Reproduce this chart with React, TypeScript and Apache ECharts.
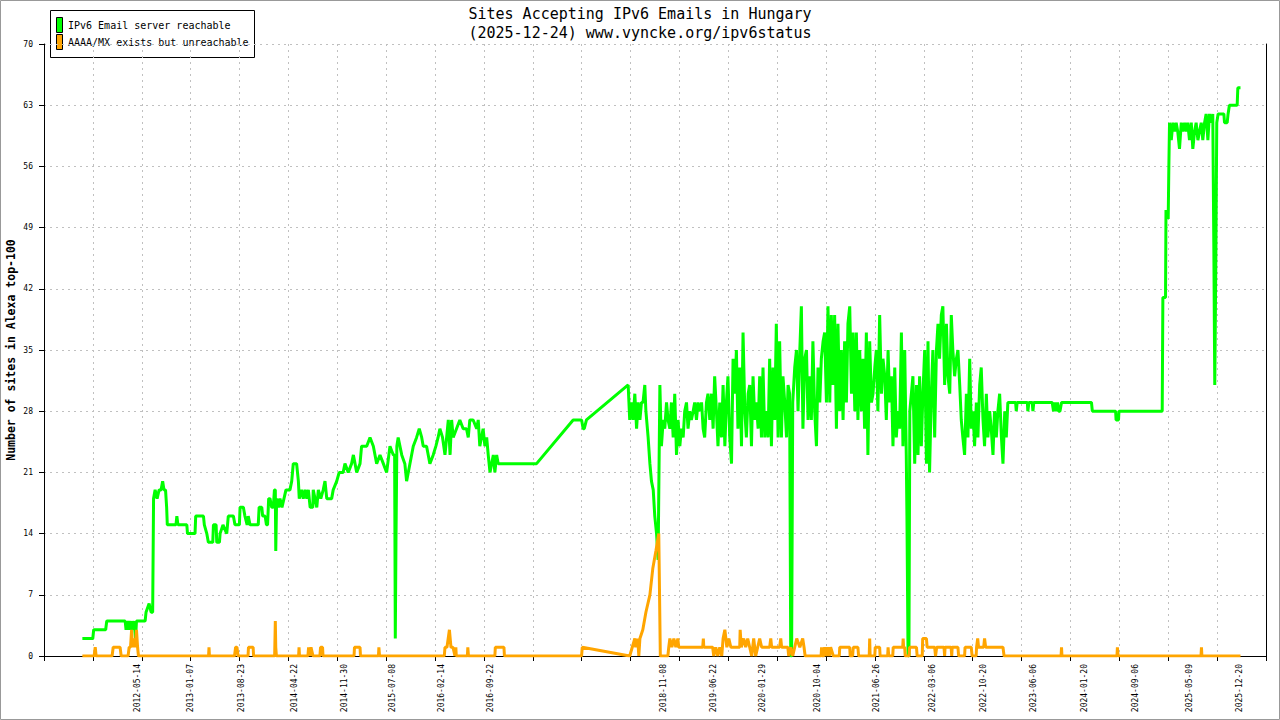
import { useEffect, useRef } from "react";
import * as echarts from "echarts";

const TITLE = "Sites Accepting IPv6 Emails in Hungary\n(2025-12-24) www.vyncke.org/ipv6status";
const Y_NAME = "Number of sites in Alexa top-100";
const SERIES_NAMES = ["IPv6 Email server reachable", "AAAA/MX exists but unreachable"];
const SERIES_COLORS = ["#00ff00", "#ffa500"];

const X_LABEL_DATES = [
  "2012-05-14", "2013-01-07", "2013-08-23", "2014-04-22", "2014-11-30", "2015-07-08",
  "2016-02-14", "2016-09-22", "2018-11-08", "2019-06-22", "2020-01-29", "2020-10-04",
  "2021-06-26", "2022-03-06", "2022-10-20", "2023-06-06", "2024-01-20", "2024-09-06",
  "2025-05-09", "2025-12-20",
];
const X_START = "2011-03-18";
const X_TICK_DAYS = 220.4;
const X_TICK_COUNT = 25;
const Y_MIN = 0;
const Y_MAX = 70;
const Y_STEP = 7;

const REACHABLE: [string, number][] = [
  ["2011-09-07", 2], ["2011-10-24", 2], ["2011-10-28", 3], ["2011-12-21", 3], ["2011-12-26", 4],
  ["2012-03-18", 4], ["2012-03-22", 3], ["2012-03-31", 4], ["2012-04-05", 3], ["2012-04-14", 4], ["2012-04-18", 3],
  ["2012-04-27", 4], ["2012-05-04", 2], ["2012-05-08", 4], ["2012-06-16", 4], ["2012-06-20", 5], ["2012-07-04", 6],
  ["2012-07-13", 5], ["2012-07-20", 5], ["2012-07-24", 18], ["2012-07-31", 19], ["2012-08-09", 18], ["2012-08-18", 19],
  ["2012-08-27", 19], ["2012-09-03", 20], ["2012-09-09", 19], ["2012-09-16", 19], ["2012-09-21", 17], ["2012-09-24", 15],
  ["2012-11-02", 15], ["2012-11-06", 16], ["2012-11-11", 15], ["2012-12-21", 15], ["2012-12-24", 14],
  ["2013-01-12", 14], ["2013-01-27", 14], ["2013-01-30", 16], ["2013-03-06", 16], ["2013-03-10", 15], ["2013-03-21", 14],
  ["2013-03-28", 13], ["2013-04-17", 13], ["2013-04-20", 15], ["2013-05-02", 15], ["2013-05-05", 13], ["2013-05-17", 13],
  ["2013-05-20", 14], ["2013-06-02", 15], ["2013-06-19", 14], ["2013-06-26", 16], ["2013-07-19", 16], ["2013-07-26", 15],
  ["2013-08-15", 15], ["2013-08-18", 17], ["2013-09-02", 17], ["2013-09-09", 16], ["2013-09-19", 15], ["2013-09-24", 16],
  ["2013-10-02", 15], ["2013-11-08", 15], ["2013-11-12", 17], ["2013-11-24", 17], ["2013-11-28", 16], ["2013-12-09", 16],
  ["2013-12-15", 15], ["2013-12-20", 15], ["2013-12-25", 18], ["2013-12-31", 18],
  ["2014-01-08", 17], ["2014-01-15", 17], ["2014-01-20", 19], ["2014-01-24", 19], ["2014-01-26", 12], ["2014-01-30", 18],
  ["2014-02-07", 17], ["2014-02-14", 18], ["2014-02-23", 17], ["2014-03-04", 18], ["2014-03-13", 19], ["2014-03-31", 19],
  ["2014-04-08", 20], ["2014-04-15", 22], ["2014-04-30", 22], ["2014-05-08", 20], ["2014-05-12", 18], ["2014-05-22", 19],
  ["2014-05-30", 18], ["2014-06-07", 19], ["2014-06-15", 18], ["2014-06-22", 19], ["2014-06-30", 17], ["2014-07-12", 17],
  ["2014-07-14", 19], ["2014-07-22", 18], ["2014-07-30", 17], ["2014-08-06", 19], ["2014-08-17", 18], ["2014-08-28", 19],
  ["2014-09-05", 20], ["2014-09-13", 18], ["2014-10-05", 18], ["2014-10-12", 19], ["2014-10-28", 20], ["2014-11-08", 21],
  ["2014-11-26", 21], ["2014-12-04", 22], ["2014-12-19", 21],
  ["2015-01-03", 22], ["2015-01-11", 23], ["2015-01-26", 21], ["2015-02-10", 22], ["2015-02-17", 24], ["2015-03-12", 24],
  ["2015-03-27", 25], ["2015-04-11", 24], ["2015-04-26", 22], ["2015-05-11", 23], ["2015-05-26", 22], ["2015-06-10", 21],
  ["2015-06-25", 24], ["2015-07-10", 23], ["2015-07-16", 23], ["2015-07-19", 2], ["2015-07-22", 13], ["2015-07-26", 24],
  ["2015-08-01", 25], ["2015-08-17", 23], ["2015-08-31", 22], ["2015-09-08", 20], ["2015-09-23", 22], ["2015-10-08", 24],
  ["2015-10-23", 25], ["2015-11-04", 26], ["2015-11-15", 25], ["2015-11-22", 24], ["2015-12-07", 24], ["2015-12-22", 22],
  ["2016-01-06", 23], ["2016-01-18", 24], ["2016-01-28", 25], ["2016-02-05", 26], ["2016-02-17", 25], ["2016-02-28", 23],
  ["2016-03-14", 27], ["2016-03-22", 23], ["2016-03-29", 27], ["2016-04-05", 25], ["2016-04-20", 26], ["2016-05-05", 27],
  ["2016-05-20", 26], ["2016-06-04", 26], ["2016-06-12", 25], ["2016-06-19", 27], ["2016-07-04", 27], ["2016-07-20", 26],
  ["2016-07-27", 27], ["2016-08-03", 24], ["2016-08-18", 26], ["2016-08-26", 24], ["2016-09-03", 25], ["2016-09-10", 23],
  ["2016-09-18", 21], ["2016-10-03", 23], ["2016-10-10", 21], ["2016-10-18", 23], ["2016-10-25", 22],
  ["2017-04-16", 22], ["2017-09-28", 27], ["2017-11-05", 27], ["2017-11-12", 26], ["2017-11-17", 26], ["2017-11-27", 27],
  ["2018-06-03", 31], ["2018-06-10", 27], ["2018-06-18", 29], ["2018-06-25", 27], ["2018-07-03", 30], ["2018-07-11", 26],
  ["2018-07-18", 29], ["2018-07-26", 27], ["2018-08-02", 29], ["2018-08-09", 29], ["2018-08-17", 31], ["2018-08-22", 28],
  ["2018-09-01", 25], ["2018-09-09", 22], ["2018-09-16", 20], ["2018-09-24", 19], ["2018-10-01", 16], ["2018-10-09", 14],
  ["2018-10-16", 11], ["2018-10-24", 31], ["2018-10-31", 24], ["2018-11-08", 27], ["2018-11-15", 26], ["2018-11-23", 29],
  ["2018-11-30", 27], ["2018-12-08", 26], ["2018-12-15", 29], ["2018-12-23", 25], ["2018-12-30", 30],
  ["2019-01-07", 23], ["2019-01-14", 27], ["2019-01-22", 24], ["2019-01-29", 26], ["2019-02-06", 25], ["2019-02-13", 28],
  ["2019-02-21", 29], ["2019-02-28", 26], ["2019-03-08", 28], ["2019-03-15", 27], ["2019-03-23", 28], ["2019-03-30", 29],
  ["2019-04-07", 27], ["2019-04-14", 29], ["2019-04-22", 28], ["2019-04-30", 29], ["2019-05-07", 26], ["2019-05-14", 25],
  ["2019-05-22", 29], ["2019-05-29", 30], ["2019-06-06", 27], ["2019-06-14", 30], ["2019-06-21", 26], ["2019-06-28", 32],
  ["2019-07-06", 28], ["2019-07-13", 24], ["2019-07-21", 29], ["2019-07-29", 25], ["2019-08-05", 31], ["2019-08-13", 24],
  ["2019-08-20", 29], ["2019-08-27", 32], ["2019-09-04", 25], ["2019-09-12", 22], ["2019-09-19", 34], ["2019-09-27", 30],
  ["2019-10-04", 35], ["2019-10-11", 26], ["2019-10-19", 33], ["2019-10-27", 24], ["2019-11-03", 37], ["2019-11-11", 28],
  ["2019-11-18", 25], ["2019-11-26", 30], ["2019-12-03", 31], ["2019-12-11", 24], ["2019-12-18", 32], ["2019-12-26", 27],
  ["2020-01-02", 29], ["2020-01-10", 26], ["2020-01-17", 32], ["2020-01-25", 25], ["2020-02-01", 33], ["2020-02-09", 25],
  ["2020-02-16", 28], ["2020-02-24", 25], ["2020-03-02", 34], ["2020-03-10", 24], ["2020-03-17", 33], ["2020-03-25", 27],
  ["2020-04-01", 38], ["2020-04-09", 25], ["2020-04-16", 36], ["2020-04-24", 25], ["2020-05-01", 32], ["2020-05-09", 29],
  ["2020-05-17", 25], ["2020-05-24", 31], ["2020-05-31", 30], ["2020-06-05", 0], ["2020-06-09", 0], ["2020-06-14", 29],
  ["2020-06-23", 33], ["2020-07-01", 35], ["2020-07-08", 28], ["2020-07-16", 35], ["2020-07-23", 40], ["2020-07-30", 26],
  ["2020-08-07", 34], ["2020-08-15", 35], ["2020-08-22", 27], ["2020-08-30", 32], ["2020-09-06", 27], ["2020-09-13", 36],
  ["2020-09-21", 28], ["2020-09-29", 24], ["2020-10-06", 33], ["2020-10-14", 29], ["2020-10-21", 34], ["2020-10-29", 36],
  ["2020-11-05", 37], ["2020-11-13", 29], ["2020-11-20", 40], ["2020-11-28", 29], ["2020-12-05", 39], ["2020-12-13", 31],
  ["2020-12-20", 39], ["2020-12-28", 26],
  ["2021-01-04", 38], ["2021-01-12", 28], ["2021-01-19", 35], ["2021-01-27", 27], ["2021-02-03", 36], ["2021-02-11", 29],
  ["2021-02-18", 38], ["2021-02-26", 40], ["2021-03-06", 30], ["2021-03-13", 37], ["2021-03-21", 28], ["2021-03-28", 37],
  ["2021-04-04", 27], ["2021-04-12", 35], ["2021-04-20", 28], ["2021-04-27", 34], ["2021-05-04", 26], ["2021-05-12", 37],
  ["2021-05-19", 23], ["2021-05-27", 36], ["2021-06-04", 29], ["2021-06-11", 30], ["2021-06-19", 33], ["2021-06-26", 35],
  ["2021-07-03", 28], ["2021-07-11", 39], ["2021-07-19", 30], ["2021-07-26", 34], ["2021-08-03", 32], ["2021-08-10", 27],
  ["2021-08-18", 35], ["2021-08-25", 29], ["2021-09-02", 32], ["2021-09-09", 24], ["2021-09-17", 33], ["2021-09-24", 25],
  ["2021-10-02", 28], ["2021-10-09", 26], ["2021-10-17", 37], ["2021-10-24", 24], ["2021-11-01", 35], ["2021-11-08", 23],
  ["2021-11-11", 16], ["2021-11-16", 0], ["2021-11-20", 0], ["2021-11-24", 28], ["2021-12-01", 30], ["2021-12-08", 32],
  ["2021-12-16", 22], ["2021-12-24", 31], ["2021-12-31", 23],
  ["2022-01-07", 32], ["2022-01-15", 24], ["2022-01-22", 30], ["2022-01-30", 35], ["2022-02-07", 22], ["2022-02-14", 36],
  ["2022-02-21", 21], ["2022-03-01", 30], ["2022-03-08", 35], ["2022-03-16", 25], ["2022-03-24", 35], ["2022-03-31", 38],
  ["2022-04-07", 34], ["2022-04-15", 39], ["2022-04-22", 40], ["2022-04-30", 31], ["2022-05-08", 38], ["2022-05-15", 32],
  ["2022-05-23", 30], ["2022-05-30", 39], ["2022-06-06", 35], ["2022-06-14", 32], ["2022-06-22", 34], ["2022-06-29", 35],
  ["2022-07-07", 31], ["2022-07-14", 27], ["2022-07-21", 25], ["2022-07-29", 23], ["2022-08-06", 30], ["2022-08-13", 25],
  ["2022-08-21", 34], ["2022-08-28", 26], ["2022-09-05", 28], ["2022-09-12", 24], ["2022-09-20", 29], ["2022-09-27", 25],
  ["2022-10-05", 31], ["2022-10-12", 33], ["2022-10-20", 27], ["2022-10-27", 24], ["2022-11-04", 30], ["2022-11-11", 25],
  ["2022-11-19", 28], ["2022-11-26", 26], ["2022-12-04", 23], ["2022-12-11", 28], ["2022-12-19", 25], ["2022-12-26", 28],
  ["2023-01-03", 30], ["2023-01-11", 25], ["2023-01-18", 22], ["2023-01-26", 28], ["2023-02-02", 25], ["2023-02-09", 29],
  ["2023-03-16", 29], ["2023-03-19", 28], ["2023-03-23", 29], ["2023-05-08", 29], ["2023-05-10", 28], ["2023-05-15", 29],
  ["2023-05-30", 29], ["2023-06-02", 28], ["2023-06-06", 29], ["2023-08-28", 29], ["2023-09-03", 28], ["2023-09-08", 29],
  ["2023-09-14", 28], ["2023-09-21", 29], ["2023-09-26", 28], ["2023-10-02", 28], ["2023-10-09", 29],
  ["2024-02-21", 29], ["2024-02-25", 28], ["2024-06-09", 28], ["2024-06-11", 27], ["2024-06-22", 27], ["2024-06-24", 28],
  ["2025-01-05", 28], ["2025-01-08", 41], ["2025-01-20", 41], ["2025-01-22", 51], ["2025-02-01", 50], ["2025-02-04", 56],
  ["2025-02-07", 61], ["2025-02-15", 59], ["2025-02-22", 61], ["2025-03-02", 60], ["2025-03-09", 61], ["2025-03-16", 60],
  ["2025-03-24", 58], ["2025-04-01", 61], ["2025-04-08", 60], ["2025-04-16", 61], ["2025-04-23", 60], ["2025-04-30", 61],
  ["2025-05-08", 59], ["2025-05-16", 61], ["2025-05-23", 58], ["2025-05-31", 60], ["2025-06-07", 61], ["2025-06-15", 59],
  ["2025-06-22", 60], ["2025-06-30", 61], ["2025-07-07", 59], ["2025-07-15", 61], ["2025-07-22", 62], ["2025-07-30", 59],
  ["2025-08-06", 62], ["2025-08-14", 61], ["2025-08-21", 62], ["2025-08-26", 46], ["2025-08-30", 31], ["2025-09-04", 46],
  ["2025-09-08", 61], ["2025-09-14", 62], ["2025-10-10", 62], ["2025-10-13", 61], ["2025-10-25", 61], ["2025-10-29", 62],
  ["2025-11-04", 63], ["2025-12-09", 63], ["2025-12-12", 65], ["2025-12-24", 65],
];

const UNREACHABLE: [string, number][] = [
  ["2011-09-07", 0], ["2011-10-30", 0], ["2011-11-04", 1], ["2011-11-08", 0],
  ["2012-01-19", 0], ["2012-01-24", 1], ["2012-02-24", 1], ["2012-02-29", 0], ["2012-03-31", 0], ["2012-04-05", 1],
  ["2012-04-11", 1], ["2012-04-16", 3], ["2012-04-20", 1], ["2012-04-27", 2], ["2012-05-02", 1], ["2012-05-08", 3],
  ["2012-05-13", 1], ["2012-05-17", 0],
  ["2013-03-29", 0], ["2013-03-31", 1], ["2013-04-02", 0], ["2013-07-24", 0], ["2013-07-29", 1], ["2013-08-04", 1],
  ["2013-08-09", 0], ["2013-09-23", 0], ["2013-09-25", 1], ["2013-10-16", 1], ["2013-10-18", 0],
  ["2014-01-21", 0], ["2014-01-24", 4], ["2014-01-26", 1], ["2014-01-29", 0], ["2014-05-09", 0], ["2014-05-11", 1],
  ["2014-05-13", 0], ["2014-06-20", 0], ["2014-06-23", 1], ["2014-06-29", 0], ["2014-07-04", 1], ["2014-07-13", 0],
  ["2014-08-13", 0], ["2014-08-16", 1], ["2014-08-25", 1], ["2014-08-27", 0],
  ["2015-01-14", 0], ["2015-01-16", 1], ["2015-02-10", 1], ["2015-02-12", 0], ["2015-05-04", 0], ["2015-05-06", 1],
  ["2015-05-09", 0],
  ["2016-02-25", 0], ["2016-02-28", 1], ["2016-03-08", 1], ["2016-03-19", 3], ["2016-03-26", 1], ["2016-04-04", 1],
  ["2016-04-13", 0], ["2016-04-17", 1], ["2016-04-19", 0], ["2016-06-08", 0], ["2016-06-10", 1], ["2016-06-13", 0],
  ["2016-10-10", 0], ["2016-10-12", 1], ["2016-11-20", 1], ["2016-11-22", 0],
  ["2017-11-05", 0], ["2017-11-08", 1],
  ["2018-06-10", 0], ["2018-07-03", 2], ["2018-07-07", 1], ["2018-07-16", 2], ["2018-07-21", 0], ["2018-07-26", 2],
  ["2018-08-08", 3], ["2018-08-22", 5], ["2018-09-09", 7], ["2018-09-22", 10], ["2018-10-06", 12], ["2018-10-19", 14],
  ["2018-10-26", 0], ["2018-11-29", 0], ["2018-12-03", 1], ["2018-12-08", 2], ["2018-12-17", 1], ["2018-12-26", 2],
  ["2019-01-04", 1], ["2019-01-13", 2], ["2019-01-17", 1], ["2019-05-05", 1], ["2019-05-08", 2], ["2019-05-10", 1],
  ["2019-06-19", 1], ["2019-06-24", 0], ["2019-07-03", 1], ["2019-07-12", 0], ["2019-07-21", 1], ["2019-07-30", 0],
  ["2019-08-05", 2], ["2019-08-13", 3], ["2019-08-22", 1], ["2019-08-31", 2], ["2019-09-09", 1], ["2019-10-19", 1],
  ["2019-10-21", 3], ["2019-10-26", 1], ["2019-11-06", 2], ["2019-11-15", 1], ["2019-11-24", 2], ["2019-12-03", 1],
  ["2019-12-12", 0], ["2019-12-21", 2], ["2019-12-30", 0],
  ["2020-01-08", 1], ["2020-01-17", 2], ["2020-01-26", 1], ["2020-03-02", 1], ["2020-03-07", 2], ["2020-03-11", 1],
  ["2020-04-16", 1], ["2020-04-21", 2], ["2020-04-25", 1], ["2020-05-23", 1], ["2020-05-27", 0], ["2020-06-05", 1],
  ["2020-06-14", 0], ["2020-06-23", 1], ["2020-07-02", 2], ["2020-07-16", 1], ["2020-07-29", 2], ["2020-08-04", 1],
  ["2020-08-09", 0], ["2020-10-20", 0], ["2020-10-22", 1], ["2020-10-25", 0], ["2020-11-01", 0], ["2020-11-05", 1],
  ["2020-11-12", 0], ["2020-11-19", 1], ["2020-11-26", 0], ["2020-12-02", 1], ["2020-12-14", 0],
  ["2021-01-10", 0], ["2021-01-12", 1], ["2021-02-26", 1], ["2021-02-28", 0], ["2021-03-11", 0], ["2021-03-14", 1],
  ["2021-04-04", 1], ["2021-04-07", 0], ["2021-05-25", 0], ["2021-05-27", 2], ["2021-05-29", 0], ["2021-06-19", 0],
  ["2021-06-21", 1], ["2021-07-11", 1], ["2021-07-13", 0], ["2021-08-16", 0], ["2021-08-18", 1], ["2021-08-21", 0],
  ["2021-09-08", 0], ["2021-09-10", 1], ["2021-10-23", 1], ["2021-10-25", 2], ["2021-10-27", 1], ["2021-11-01", 1],
  ["2021-11-03", 0], ["2021-11-21", 0], ["2021-11-23", 1], ["2021-12-24", 1], ["2021-12-27", 0],
  ["2022-01-19", 0], ["2022-01-21", 2], ["2022-02-07", 2], ["2022-02-10", 1], ["2022-03-16", 1], ["2022-03-20", 0],
  ["2022-03-25", 1], ["2022-04-27", 1], ["2022-04-30", 0], ["2022-05-02", 1], ["2022-05-29", 1], ["2022-06-01", 0],
  ["2022-06-03", 1], ["2022-06-29", 1], ["2022-07-02", 0], ["2022-07-29", 0], ["2022-07-31", 1], ["2022-08-28", 1],
  ["2022-09-01", 0], ["2022-09-19", 0], ["2022-09-21", 1], ["2022-09-26", 2], ["2022-09-30", 1], ["2022-10-23", 1],
  ["2022-10-27", 2], ["2022-11-01", 1], ["2023-01-18", 1], ["2023-01-23", 0],
  ["2023-10-07", 0], ["2023-10-09", 1], ["2023-10-11", 0], ["2024-06-15", 0], ["2024-06-17", 1], ["2024-06-20", 0],
  ["2025-06-29", 0], ["2025-07-01", 1], ["2025-07-03", 0], ["2025-12-24", 0],
];

const DAY = 86400000;
const FONT = "DejaVu Sans Mono";
const toMs = (s: string) => Date.parse(s + "T00:00:00Z");
const fmtDate = (v: number) => new Date(v).toISOString().slice(0, 10);

export default function App() {
  const ref = useRef<HTMLDivElement>(null);

  useEffect(() => {
    document.body.style.margin = "0";
    if (!ref.current) return;
    const chart = echarts.init(ref.current, null, { renderer: "svg" });

    const xMin = toMs(X_START);
    const xTicks = Array.from({ length: X_TICK_COUNT + 1 }, (_, i) => xMin + i * X_TICK_DAYS * DAY);
    const xMax = xTicks[xTicks.length - 1];
    const labelValues = X_LABEL_DATES.map(toMs);

    const mk = (arr: [string, number][]) => arr.map(([d, v]) => [toMs(d), v]);

    chart.setOption({
      animation: false,
      textStyle: { fontFamily: FONT },
      title: {
        text: TITLE,
        left: "center",
        top: 4,
        padding: 0,
        textStyle: { fontFamily: FONT, fontSize: 15, lineHeight: 19, fontWeight: "normal", color: "#000" },
      },
      grid: { left: 44, right: 14, top: 44, bottom: 64, containLabel: false, outerBoundsMode: "none" },
      xAxis: {
        type: "value",
        min: xMin,
        max: xMax,
        axisLine: { show: true, onZero: false, lineStyle: { color: "#000", width: 1 } },
        axisTick: { show: true, length: 5, customValues: xTicks, lineStyle: { color: "#000" } },
        axisLabel: {
          customValues: labelValues,
          rotate: 90,
          margin: 8,
          fontSize: 8,
          fontFamily: FONT,
          color: "#000",
          formatter: (v: number) => fmtDate(v),
        },
        splitLine: { show: true, lineStyle: { color: "#c0c0c0", type: [2, 4], width: 1 } },
      },
      yAxis: [
        {
          type: "value",
          min: Y_MIN,
          max: Y_MAX,
          interval: Y_STEP,
          name: Y_NAME,
          nameLocation: "middle",
          nameRotate: 90,
          nameGap: 27,
          nameMoveOverlap: false,
          nameTextStyle: { fontFamily: FONT, fontSize: 11.5, fontWeight: "bold", color: "#000" },
          axisLine: { show: true, lineStyle: { color: "#000", width: 1 } },
          axisTick: { show: true, length: 5, lineStyle: { color: "#000" } },
          axisLabel: { fontSize: 8, fontFamily: FONT, color: "#000", margin: 11 },
          splitLine: { show: true, lineStyle: { color: "#c0c0c0", type: [2, 4], width: 1 } },
        },
        {
          type: "value",
          position: "right",
          min: Y_MIN,
          max: Y_MAX,
          interval: Y_STEP,
          axisLine: { show: true, lineStyle: { color: "#000", width: 1 } },
          axisTick: { show: false },
          axisLabel: { show: false },
          splitLine: { show: false },
        },
      ],
      series: [
        {
          type: "line",
          name: SERIES_NAMES[0],
          data: mk(REACHABLE),
          showSymbol: false,
          symbol: "none",
          silent: true,
          lineStyle: { color: SERIES_COLORS[0], width: 3, join: "bevel", cap: "butt" },
          itemStyle: { color: SERIES_COLORS[0] },
          z: 2,
        },
        {
          type: "line",
          name: SERIES_NAMES[1],
          data: mk(UNREACHABLE),
          showSymbol: false,
          symbol: "none",
          silent: true,
          lineStyle: { color: SERIES_COLORS[1], width: 3, join: "bevel", cap: "butt" },
          itemStyle: { color: SERIES_COLORS[1] },
          z: 3,
        },
      ],
      graphic: [
        {
          type: "rect",
          z: 0,
          silent: true,
          shape: { x: 0.5, y: 0.5, width: 1279, height: 719 },
          style: { fill: "none", stroke: "#999", lineWidth: 1 },
        },
        {
          type: "group",
          z: 100,
          silent: true,
          children: [
            {
              type: "rect",
              shape: { x: 50.5, y: 10.5, width: 204, height: 47 },
              style: { fill: "#fff", stroke: "#000", lineWidth: 1 },
            },
            {
              type: "rect",
              shape: { x: 56.5, y: 17.5, width: 6, height: 15 },
              style: { fill: SERIES_COLORS[0], stroke: "#000", lineWidth: 1 },
            },
            {
              type: "rect",
              shape: { x: 56.5, y: 34.5, width: 6, height: 15 },
              style: { fill: SERIES_COLORS[1], stroke: "#000", lineWidth: 1 },
            },
            {
              type: "text",
              x: 68,
              y: 25.5,
              style: { text: SERIES_NAMES[0], fill: "#000", font: `10px '${FONT}'`, verticalAlign: "middle", align: "left" },
            },
            {
              type: "text",
              x: 68,
              y: 42.5,
              style: { text: SERIES_NAMES[1], fill: "#000", font: `10px '${FONT}'`, verticalAlign: "middle", align: "left" },
            },
          ],
        },
      ],
    });

    return () => chart.dispose();
  }, []);

  return <div ref={ref} style={{ width: 1280, height: 720 }} />;
}
